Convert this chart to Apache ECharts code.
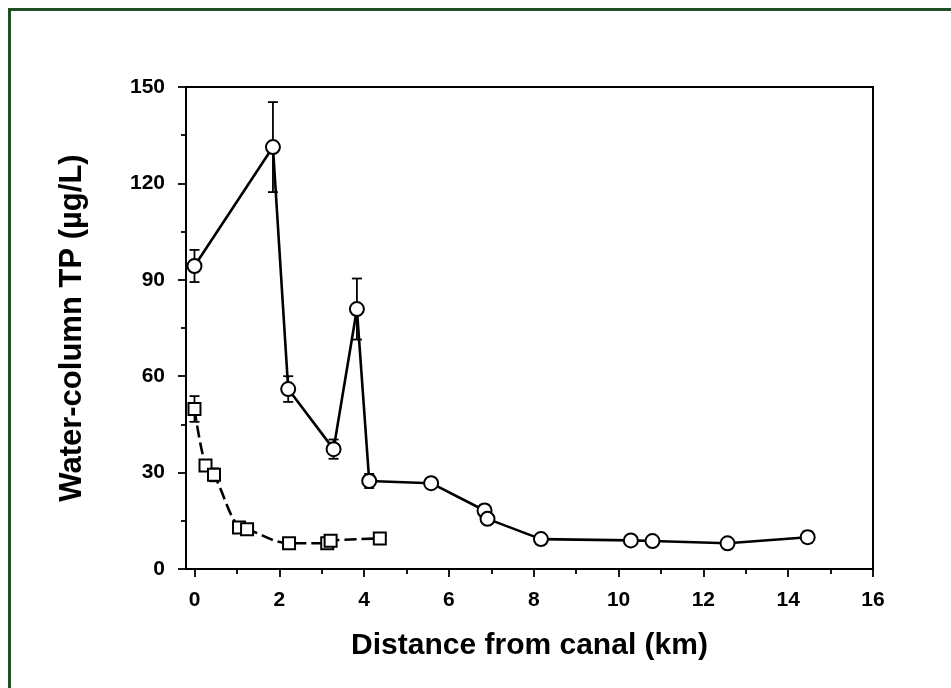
<!DOCTYPE html>
<html>
<head>
<meta charset="utf-8">
<script src="https://cdn.jsdelivr.net/npm/echarts@6/dist/echarts.min.js"></script>
<style>
  html, body { margin: 0; padding: 0; background: #fff; }
  #main { width: 951px; height: 688px; }
</style>
</head>
<body>
<div id="main"></div>
<script>
// 数据
var circleX = [0, 1.85, 2.21, 3.28, 3.83, 4.12, 5.58, 6.84, 6.91, 8.17, 10.29, 10.80, 12.57, 14.46];
var circleY = [94.3, 131.3, 56.0, 37.3, 80.9, 27.4, 26.7, 18.2, 15.6, 9.3, 8.9, 8.7, 8.0, 9.9];
var circleErr = [5, 14, 4, 3, 9.5, 2.2, 1.6, 1.8, 1, 0.8, 0.8, 0.8, 0.8, 1.8];

var squareX = [0, 0.26, 0.46, 1.05, 1.24, 2.23, 3.13, 3.21, 4.37];
var squareY = [49.8, 32.2, 29.3, 12.9, 12.4, 8.0, 8.0, 8.8, 9.5];
var squareErr = [4, 1.5, 2, 1.5, 0.5, 1.5, 0.5, 0.5, 0.5];

var xTicks = [0, 2, 4, 6, 8, 10, 12, 14, 16];
var xMinorTicks = [1, 3, 5, 7, 9, 11, 13, 15];

function pts(xs, ys) {
    return xs.map(function (x, i) { return [x, ys[i]]; });
}
function errPts(xs, ys, es) {
    return xs.map(function (x, i) { return [x, ys[i], es[i]]; });
}

function errRender(params, api) {
    var x = api.value(0), y = api.value(1), e = api.value(2);
    var hi = api.coord([x, y + e]);
    var lo = api.coord([x, y - e]);
    var w = 5;
    var st = { stroke: '#000', lineWidth: 1.8 };
    return {
        type: 'group',
        children: [
            { type: 'line', shape: { x1: hi[0], y1: hi[1], x2: lo[0], y2: lo[1] }, style: st },
            { type: 'line', shape: { x1: hi[0] - w, y1: hi[1], x2: hi[0] + w, y2: hi[1] }, style: st },
            { type: 'line', shape: { x1: lo[0] - w, y1: lo[1], x2: lo[0] + w, y2: lo[1] }, style: st }
        ]
    };
}

var font = "'Liberation Sans', Arial, sans-serif";
var myChart = echarts.init(document.getElementById('main'));

var option = {
    backgroundColor: '#fff',
    animation: false,
    graphic: [{
        type: 'rect',
        shape: { x: 9.5, y: 9.5, width: 1000, height: 1000 },
        style: { fill: 'none', stroke: '#1e4f25', lineWidth: 3 },
        silent: true
    }],
    grid: {
        left: 186, right: 78, top: 87, bottom: 119,
        show: true, borderColor: '#000', borderWidth: 2, backgroundColor: 'transparent'
    },
    xAxis: [{
        type: 'value',
        min: -0.2, max: 16,
        name: 'Distance from canal (km)',
        nameLocation: 'middle',
        nameGap: 62,
        nameTextStyle: { fontFamily: font, fontWeight: 'bold', fontSize: 30, color: '#000' },
        axisLine: { show: true, onZero: false, lineStyle: { color: '#000', width: 2 } },
        axisTick: { show: true, length: 8, lineStyle: { color: '#000', width: 1.8 }, customValues: xTicks },
        axisLabel: { customValues: xTicks, margin: 21, fontFamily: font, fontWeight: 'bold', fontSize: 21, color: '#000' },
        splitLine: { show: false }
    }, {
        type: 'value',
        position: 'bottom',
        min: -0.2, max: 16,
        axisLine: { show: false, onZero: false },
        axisTick: { show: true, length: 5, lineStyle: { color: '#000', width: 1.8 }, customValues: xMinorTicks },
        axisLabel: { show: false },
        splitLine: { show: false }
    }],
    yAxis: {
        type: 'value',
        min: 0, max: 150, interval: 30,
        name: 'Water-column TP (µg/L)',
        nameLocation: 'middle',
        nameGap: 98,
        nameTextStyle: { fontFamily: font, fontWeight: 'bold', fontSize: 31, color: '#000' },
        axisLine: { show: true, onZero: false, lineStyle: { color: '#000', width: 2 } },
        axisTick: { show: true, length: 8, lineStyle: { color: '#000', width: 1.8 } },
        minorTick: { show: true, splitNumber: 2, length: 5, lineStyle: { color: '#000', width: 1.8 } },
        axisLabel: { margin: 21, fontFamily: font, fontWeight: 'bold', fontSize: 21, color: '#000' },
        splitLine: { show: false },
        minorSplitLine: { show: false }
    },
    series: [{
        name: 'circleErr',
        type: 'custom',
        renderItem: errRender,
        encode: { x: 0, y: 1 },
        data: errPts(circleX, circleY, circleErr),
        z: 2
    }, {
        name: 'squareErr',
        type: 'custom',
        renderItem: errRender,
        encode: { x: 0, y: 1 },
        data: errPts(squareX, squareY, squareErr),
        z: 2
    }, {
        name: 'squares',
        type: 'line',
        data: pts(squareX, squareY),
        smooth: 0.35,
        symbol: 'rect',
        symbolSize: 12,
        showAllSymbol: true,
        lineStyle: { color: '#000', width: 2.6, type: [12, 5] },
        itemStyle: { color: '#fff', borderColor: '#000', borderWidth: 2 },
        z: 3
    }, {
        name: 'circles',
        type: 'line',
        data: pts(circleX, circleY),
        symbol: 'circle',
        symbolSize: 14,
        showAllSymbol: true,
        lineStyle: { color: '#000', width: 2.6 },
        itemStyle: { color: '#fff', borderColor: '#000', borderWidth: 2 },
        z: 4
    }]
};
myChart.setOption(option);
</script>
</body>
</html>
